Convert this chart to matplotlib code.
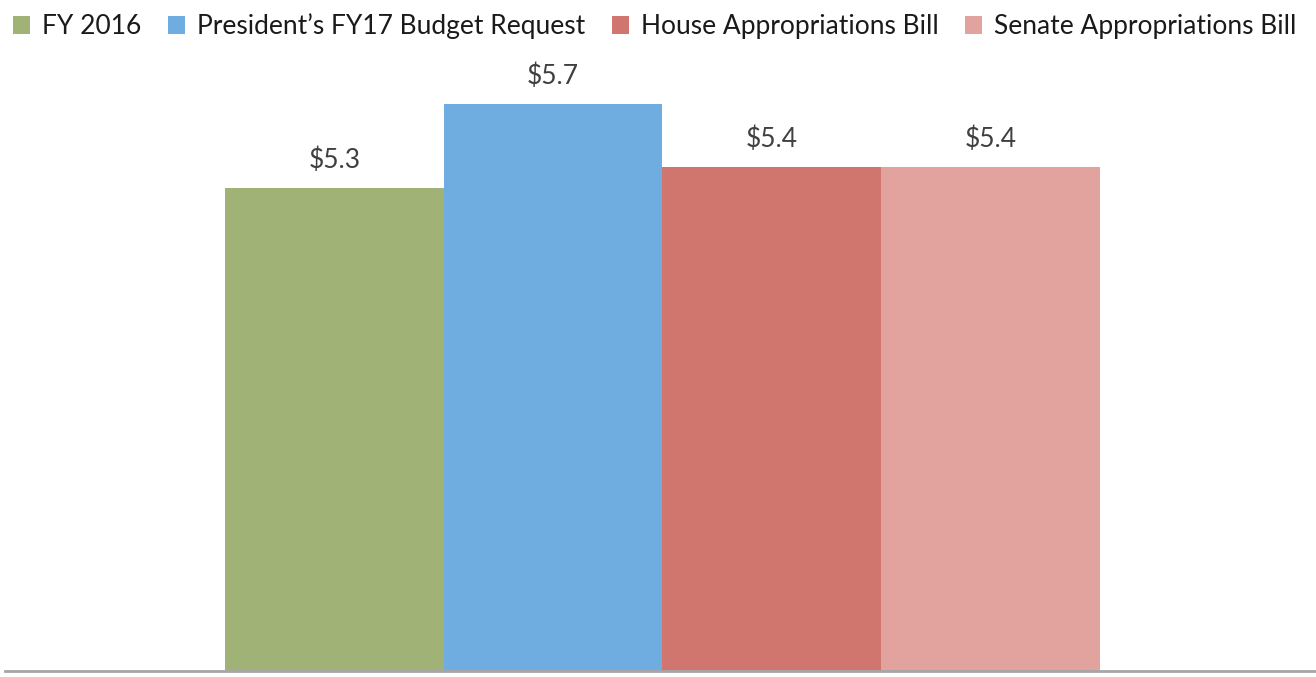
import matplotlib
matplotlib.use("Agg")
import matplotlib.pyplot as plt
from matplotlib.patches import Patch

# data
series = ["FY 2016", "President\u2019s FY17 Budget Request",
          "House Appropriations Bill", "Senate Appropriations Bill"]
values = [5.3, 5.7, 5.4, 5.4]
labels = ["$5.3", "$5.7", "$5.4", "$5.4"]
colors = ["#A1B277", "#6FACE0", "#D1766F", "#E2A39E"]

plt.rcParams['font.family'] = ['Lato', 'DejaVu Sans']

W, H = 1316, 677
fig = plt.figure(figsize=(W / 100, H / 100), dpi=100)
ax = fig.add_axes([5 / W, 6 / H, 1311 / W, 630 / H])

xs = range(len(values))
bars = ax.bar(xs, [v - 3 for v in values], bottom=3, width=1.0, align='edge',
              color=colors, linewidth=0)
for b, lab in zip(bars, labels):
    ax.annotate(lab, (b.get_x() + b.get_width() / 2, b.get_y() + b.get_height()),
                xytext=(0, 11), textcoords='offset points', ha='center', va='bottom',
                fontsize=19, color='#404040')

ax.set_xlim(-1.006, 4.988)
ax.set_ylim(3, 6)
for s in ['top', 'right', 'left']:
    ax.spines[s].set_visible(False)
ax.spines['bottom'].set_color('#A6A6A6')
ax.spines['bottom'].set_linewidth(2)
ax.set_xticks([])
ax.set_yticks([])

handles = [Patch(facecolor=c, edgecolor='none') for c in colors]
leg = fig.legend(handles, series, loc='upper left', bbox_to_anchor=(0.0, 1.0),
                 ncol=4, frameon=False, fontsize=19, handlelength=0.65,
                 handleheight=0.65, handletextpad=0.45, columnspacing=1.0,
                 borderaxespad=0.2, borderpad=0.3)
for t in leg.get_texts():
    t.set_color('#1a1a1a')

fig.savefig("out.png", dpi=100)
